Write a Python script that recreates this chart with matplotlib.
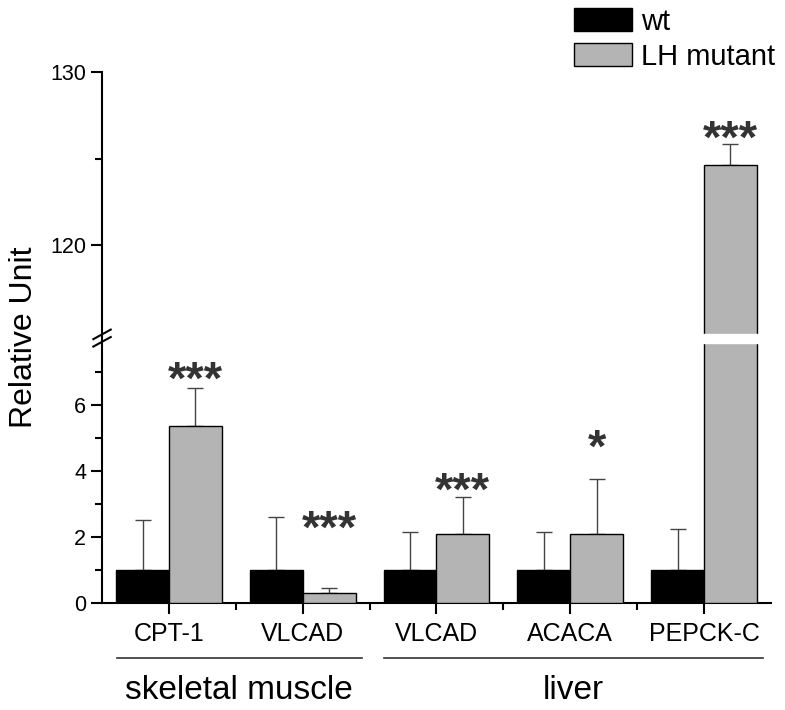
import numpy as np
import matplotlib
matplotlib.use('Agg')
import matplotlib.pyplot as plt
import matplotlib.transforms as mtransforms
from matplotlib.ticker import FixedLocator

plt.rcParams['font.family'] = ['Liberation Sans', 'DejaVu Sans']

genes = ['CPT-1', 'VLCAD', 'VLCAD', 'ACACA', 'PEPCK-C']
groups = ['skeletal muscle', 'liver']
group_members = [[0, 1], [2, 3, 4]]
wt = [1.0, 1.0, 1.0, 1.0, 1.0]
wt_err = [1.5, 1.6, 1.15, 1.15, 1.25]
mutant = [5.35, 0.3, 2.1, 2.1, 124.6]
mutant_err = [1.15, 0.15, 1.1, 1.65, 1.25]
stars = ['***', '***', '***', '*', '***']
star_y = [6.8, 2.3, 3.45, 4.75, 126.2]

# broken axis: 0..8 linear, then 114.6..130 compressed
b1, b2, r = 8.0, 114.6, 0.524

def fwd(y):
    y = np.asarray(y, dtype=float)
    return np.where(y <= b1, y, b1 + (y - b2) * r)

def inv(y):
    y = np.asarray(y, dtype=float)
    return np.where(y <= b1, y, b2 + (y - b1) / r)

fig = plt.figure(figsize=(7.85, 7.10), dpi=100)
ax = fig.add_axes([0.13, 0.1507, 0.852, 0.748])
ax.set_yscale('function', functions=(fwd, inv))

x = np.arange(1, len(genes) + 1)
w = 0.395
ax.bar(x - w / 2, wt, w, color='black', edgecolor='black', lw=1, zorder=3, label='wt')
ax.bar(x + w / 2, mutant, w, color='#b4b4b4', edgecolor='black', lw=1, zorder=3, label='LH mutant')
ax.errorbar(x - w / 2, wt, yerr=[np.zeros(len(wt)), wt_err], fmt='none', ecolor='#444444',
            elinewidth=1, capsize=6, capthick=1, zorder=2)
ax.errorbar(x + w / 2, mutant, yerr=[np.zeros(len(mutant)), mutant_err], fmt='none', ecolor='#444444',
            elinewidth=1, capsize=6, capthick=1, zorder=2)

for xi, s, sy in zip(x, stars, star_y):
    ax.annotate(s, (xi + w / 2, sy), xytext=(0, -11), textcoords='offset points',
                ha='center', va='baseline', fontsize=34, fontweight='bold', color='#333333')

ax.set_xlim(0.5, 5.5)
ax.set_ylim(0, 130)
ax.yaxis.set_major_locator(FixedLocator([0, 2, 4, 6, 120, 130]))
ax.yaxis.set_minor_locator(FixedLocator([1, 3, 5, 7, 125]))
ax.set_yticklabels(['0', '2', '4', '6', '120', '130'])
ax.set_xticks(x)
ax.set_xticklabels(genes)
ax.set_xticks(x[:-1] + 0.5, minor=True)
ax.tick_params(axis='both', which='major', direction='out', length=8, width=1.5, labelsize=15.5)
ax.tick_params(axis='x', which='major', pad=6, labelsize=18)
ax.tick_params(axis='both', which='minor', direction='out', length=5, width=1.5)
for side in ['top', 'right']:
    ax.spines[side].set_visible(False)
for side in ['left', 'bottom']:
    ax.spines[side].set_linewidth(1.5)
ax.set_ylabel('Relative Unit', fontsize=23)
ax.yaxis.set_label_coords(-0.094, 0.5)

# break marks and gap on the tall bar
brk = float(fwd(b1) / fwd(130))
for dy in (-0.006, 0.008):
    ax.plot([-0.013, 0.013], [brk + dy - 0.009, brk + dy + 0.009], transform=ax.transAxes,
            color='black', lw=1.5, clip_on=False, zorder=5)
tb = mtransforms.blended_transform_factory(ax.transData, ax.transAxes)
ax.add_patch(plt.Rectangle((x[-1] - 0.02, brk - 0.008), w + 0.04, 0.016,
                           transform=tb, color='white', zorder=4, clip_on=False))

# group lines and labels
for name, idx in zip(groups, group_members):
    x0, x1 = x[idx[0]] - 0.39, x[idx[-1]] + 0.44
    ax.plot([x0, x1], [-0.104, -0.104], transform=tb, color='#333333', lw=1.2, clip_on=False)
    ax.text((x0 + x1) / 2, -0.164, name, transform=tb, ha='center', va='center', fontsize=24)

fig.legend(loc='upper right', bbox_to_anchor=(1.008, 1.012), frameon=False, fontsize=21,
           handlelength=2.0, handleheight=0.82, handletextpad=0.3, labelspacing=0.25, borderaxespad=0.15)

fig.savefig('out.png', dpi=100)
